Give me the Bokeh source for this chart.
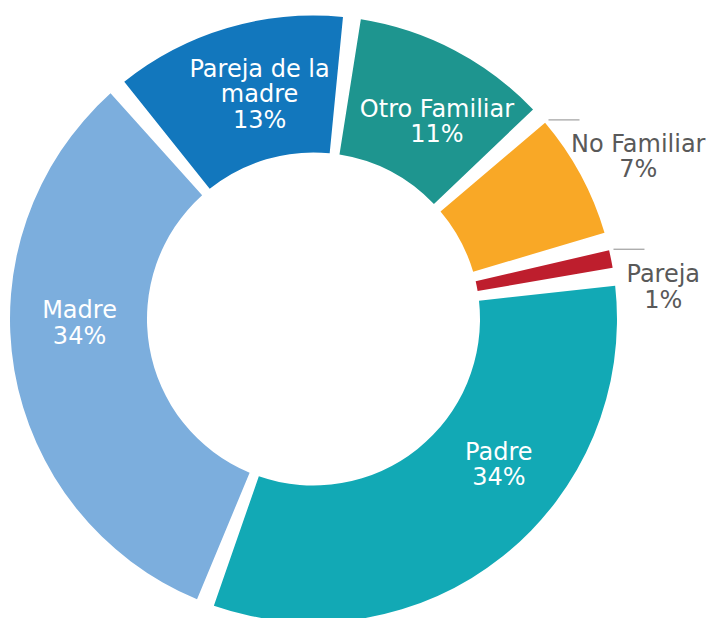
import math
from bokeh.plotting import figure
from bokeh.models import ColumnDataSource
from bokeh.core.properties import value
from bokeh.embed import file_html
from bokeh.resources import INLINE

# ---------------- data ----------------
categories = ["Padre", "Madre", "Pareja de la madre", "Otro Familiar", "No Familiar", "Pareja"]
percent = [34, 34, 13, 11, 7, 1]
label_names = ["Padre", "Madre", "Pareja de la\nmadre", "Otro Familiar", "No Familiar", "Pareja"]

# ---------------- style / layout ----------------
colors = ["#12A9B5", "#7CAEDD", "#1277BD", "#1E958F", "#F9A826", "#BE1E2D"]
start_deg = 6.3          # counter-clockwise edge of the first slice
gap_deg = 3.4            # white gap between slices
inner_r, outer_r = 166.5, 303.5
inside = [True, True, True, True, False, False]
inside_label_polar = {0: (-38.1, 235.5), 1: (181.0, 234.0), 2: (103.5, 231.0), 3: (58.0, 233.0)}
leader_r, leader_len = 308.0, 31.0
outside_text_offset = {4: (58.7, -36.5), 5: (18.8, -37.8)}
FONT = "DejaVu Sans"
FS = "24px"
LINE_H = 0.9

W, H = 717, 618
p = figure(width=W, height=H, x_range=(-313, 404), y_range=(-299.5, 318.5),
           output_backend="svg", toolbar_location=None, min_border=0,
           x_axis_location=None, y_axis_location=None)
p.grid.visible = False
p.outline_line_color = None
p.background_fill_color = "white"

total = sum(percent)
avail = 360.0 - gap_deg * len(percent)
starts, ends = [], []
cur = start_deg
for v in percent:
    span = v / total * avail
    starts.append(cur)
    ends.append(cur - span)
    cur = cur - span - gap_deg

src = ColumnDataSource(dict(cat=categories, start=starts, end=ends, color=colors))
p.annular_wedge(x=0, y=0, inner_radius=inner_r, outer_radius=outer_r,
                start_angle="start", end_angle="end", start_angle_units="deg",
                end_angle_units="deg", direction="clock",
                fill_color="color", line_color=None, source=src)

# inside labels
ix, iy, it = [], [], []
for i, name in enumerate(label_names):
    if inside[i]:
        a, r = inside_label_polar[i]
        ix.append(r * math.cos(math.radians(a)))
        iy.append(r * math.sin(math.radians(a)))
        it.append(f"{name}\n{percent[i]}%")
p.text(x=ix, y=iy, text=it, text_color="white", text_font=value(FONT),
       text_font_size=FS, text_align="center", text_baseline="middle",
       text_line_height=LINE_H)

# outside labels with leader lines
lx0, ly0, lx1, ly1, ox, oy, ot = [], [], [], [], [], [], []
for i, name in enumerate(label_names):
    if not inside[i]:
        a = math.radians(starts[i])
        x0 = leader_r * math.cos(a)
        y0 = leader_r * math.sin(a)
        lx0.append(x0); ly0.append(y0); lx1.append(x0 + leader_len); ly1.append(y0)
        dx, dy = outside_text_offset[i]
        ox.append(x0 + leader_len + dx); oy.append(y0 + dy)
        ot.append(f"{name}\n{percent[i]}%")
p.segment(x0=lx0, y0=ly0, x1=lx1, y1=ly1, line_color="#8C8C8C", line_width=1)
p.text(x=ox, y=oy, text=ot, text_color="#595959", text_font=value(FONT),
       text_font_size=FS, text_align="center", text_baseline="middle",
       text_line_height=LINE_H)

open("out.html", "w").write(file_html(p, INLINE))
